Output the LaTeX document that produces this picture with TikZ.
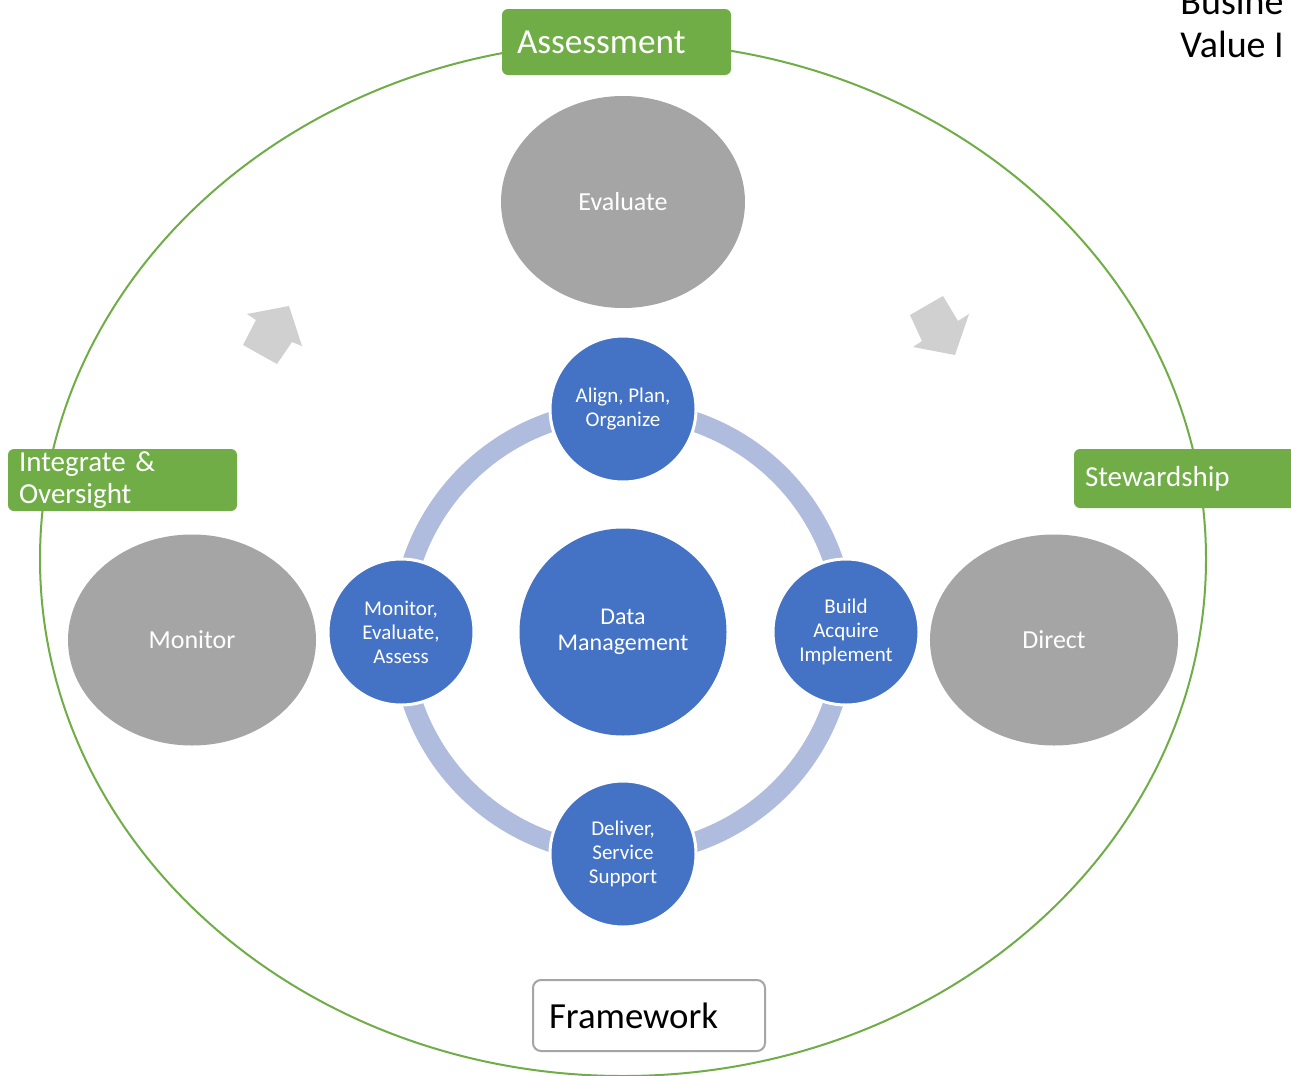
\documentclass[tikz,border=0pt]{standalone}
\usepackage{fontspec}
\setmainfont{Carlito}
\usepackage{tikz}
\usetikzlibrary{positioning,shapes.geometric}
\definecolor{leaf}{RGB}{112,173,71}
\definecolor{stone}{RGB}{165,165,165}
\definecolor{sea}{RGB}{68,114,196}
\definecolor{mist}{RGB}{175,188,221}
\definecolor{pale}{RGB}{208,208,208}

\begin{document}
\begin{tikzpicture}[x=0.5pt, y=-0.5pt,
    tag/.style={rectangle, fill=leaf, rounded corners=3pt, text=white, align=left,
        inner xsep=5.5pt, inner ysep=0pt, text width=103.5pt, minimum height=31pt,
        font=\fontsize{14.5}{16}\selectfont},
    phase/.style={ellipse, fill=stone, text=white, inner sep=0pt,
        minimum width=124pt, minimum height=105.5pt, font=\fontsize{13}{15}\selectfont},
    spoke/.style={circle, fill=sea, draw=white, line width=1.5pt, text=white,
        align=center, inner sep=0pt, minimum size=73pt,
        font=\fontsize{10.5}{12}\selectfont},
    hub/.style={spoke, draw=none, minimum size=103.5pt,
        font=\fontsize{12}{13}\selectfont},
    turn/.style={fill=pale, draw=none}
]
\fill[white] (0,0) rectangle (1291,1076);
\useasboundingbox (0,0) rectangle (1291,1076);

% outer frame
\draw[leaf, line width=1pt] (623,559) ellipse [x radius=291.5pt, y radius=258.5pt];

% green tags
\node (G1) [tag, text width=99.5pt, inner xsep=7.5pt, minimum height=33pt,
    font=\fontsize{17.6}{20}\selectfont] at (616.5,42) {Assessment};
\node (G2) [tag] at (122.5,480) {Integrate \&\\Oversight};
\node (G3) [tag, text width=112pt, minimum height=29.5pt] at (1197,478.5) {Stewardship};

% grey phases
\node (P1) [phase, minimum width=122pt, minimum height=106pt] at (623,202) {Evaluate};
\node (P2) [phase] at (192,640) {Monitor};
\node (P3) [phase] at (1054,640) {Direct};

% turning arrows
\fill[turn] (289,306) -- (247,314) -- (256,320) -- (243,345) -- (277,364)
    -- (292,342) -- (302,346) -- cycle;
\fill[turn] (955,355) -- (913,347) -- (922,341) -- (910,315) -- (943,296)
    -- (958,321) -- (969,314) -- cycle;

% inner cycle
\node (C0) [hub] at (623,632) {Data\\Management};
\draw[mist, line width=10pt] (C0.center) circle [radius=111pt];
\node (C1) [spoke] at (623,409) {Align, Plan,\\Organize};
\node (C2) [spoke] at (846,632) {Build\\Acquire\\Implement};
\node (C3) [spoke] at (623,854) {Deliver,\\Service\\Support};
\node (C4) [spoke] at (401,632) {Monitor,\\Evaluate,\\Assess};

\node (F1) [rectangle, draw=stone, line width=1pt, fill=white, rounded corners=4pt,
    align=left, text width=100pt, inner xsep=8pt, minimum height=35.5pt,
    font=\fontsize{18.4}{21}\selectfont] at (649,1015.5) {Framework};

\node (T1) [anchor=base west, inner sep=0pt, font=\fontsize{19}{22}\selectfont]
    at (1180,14) {Busine};
\node (T2) [anchor=base west, inner sep=0pt, font=\fontsize{19}{22}\selectfont]
    at (1180,57) {Value I};
\end{tikzpicture}
\end{document}
